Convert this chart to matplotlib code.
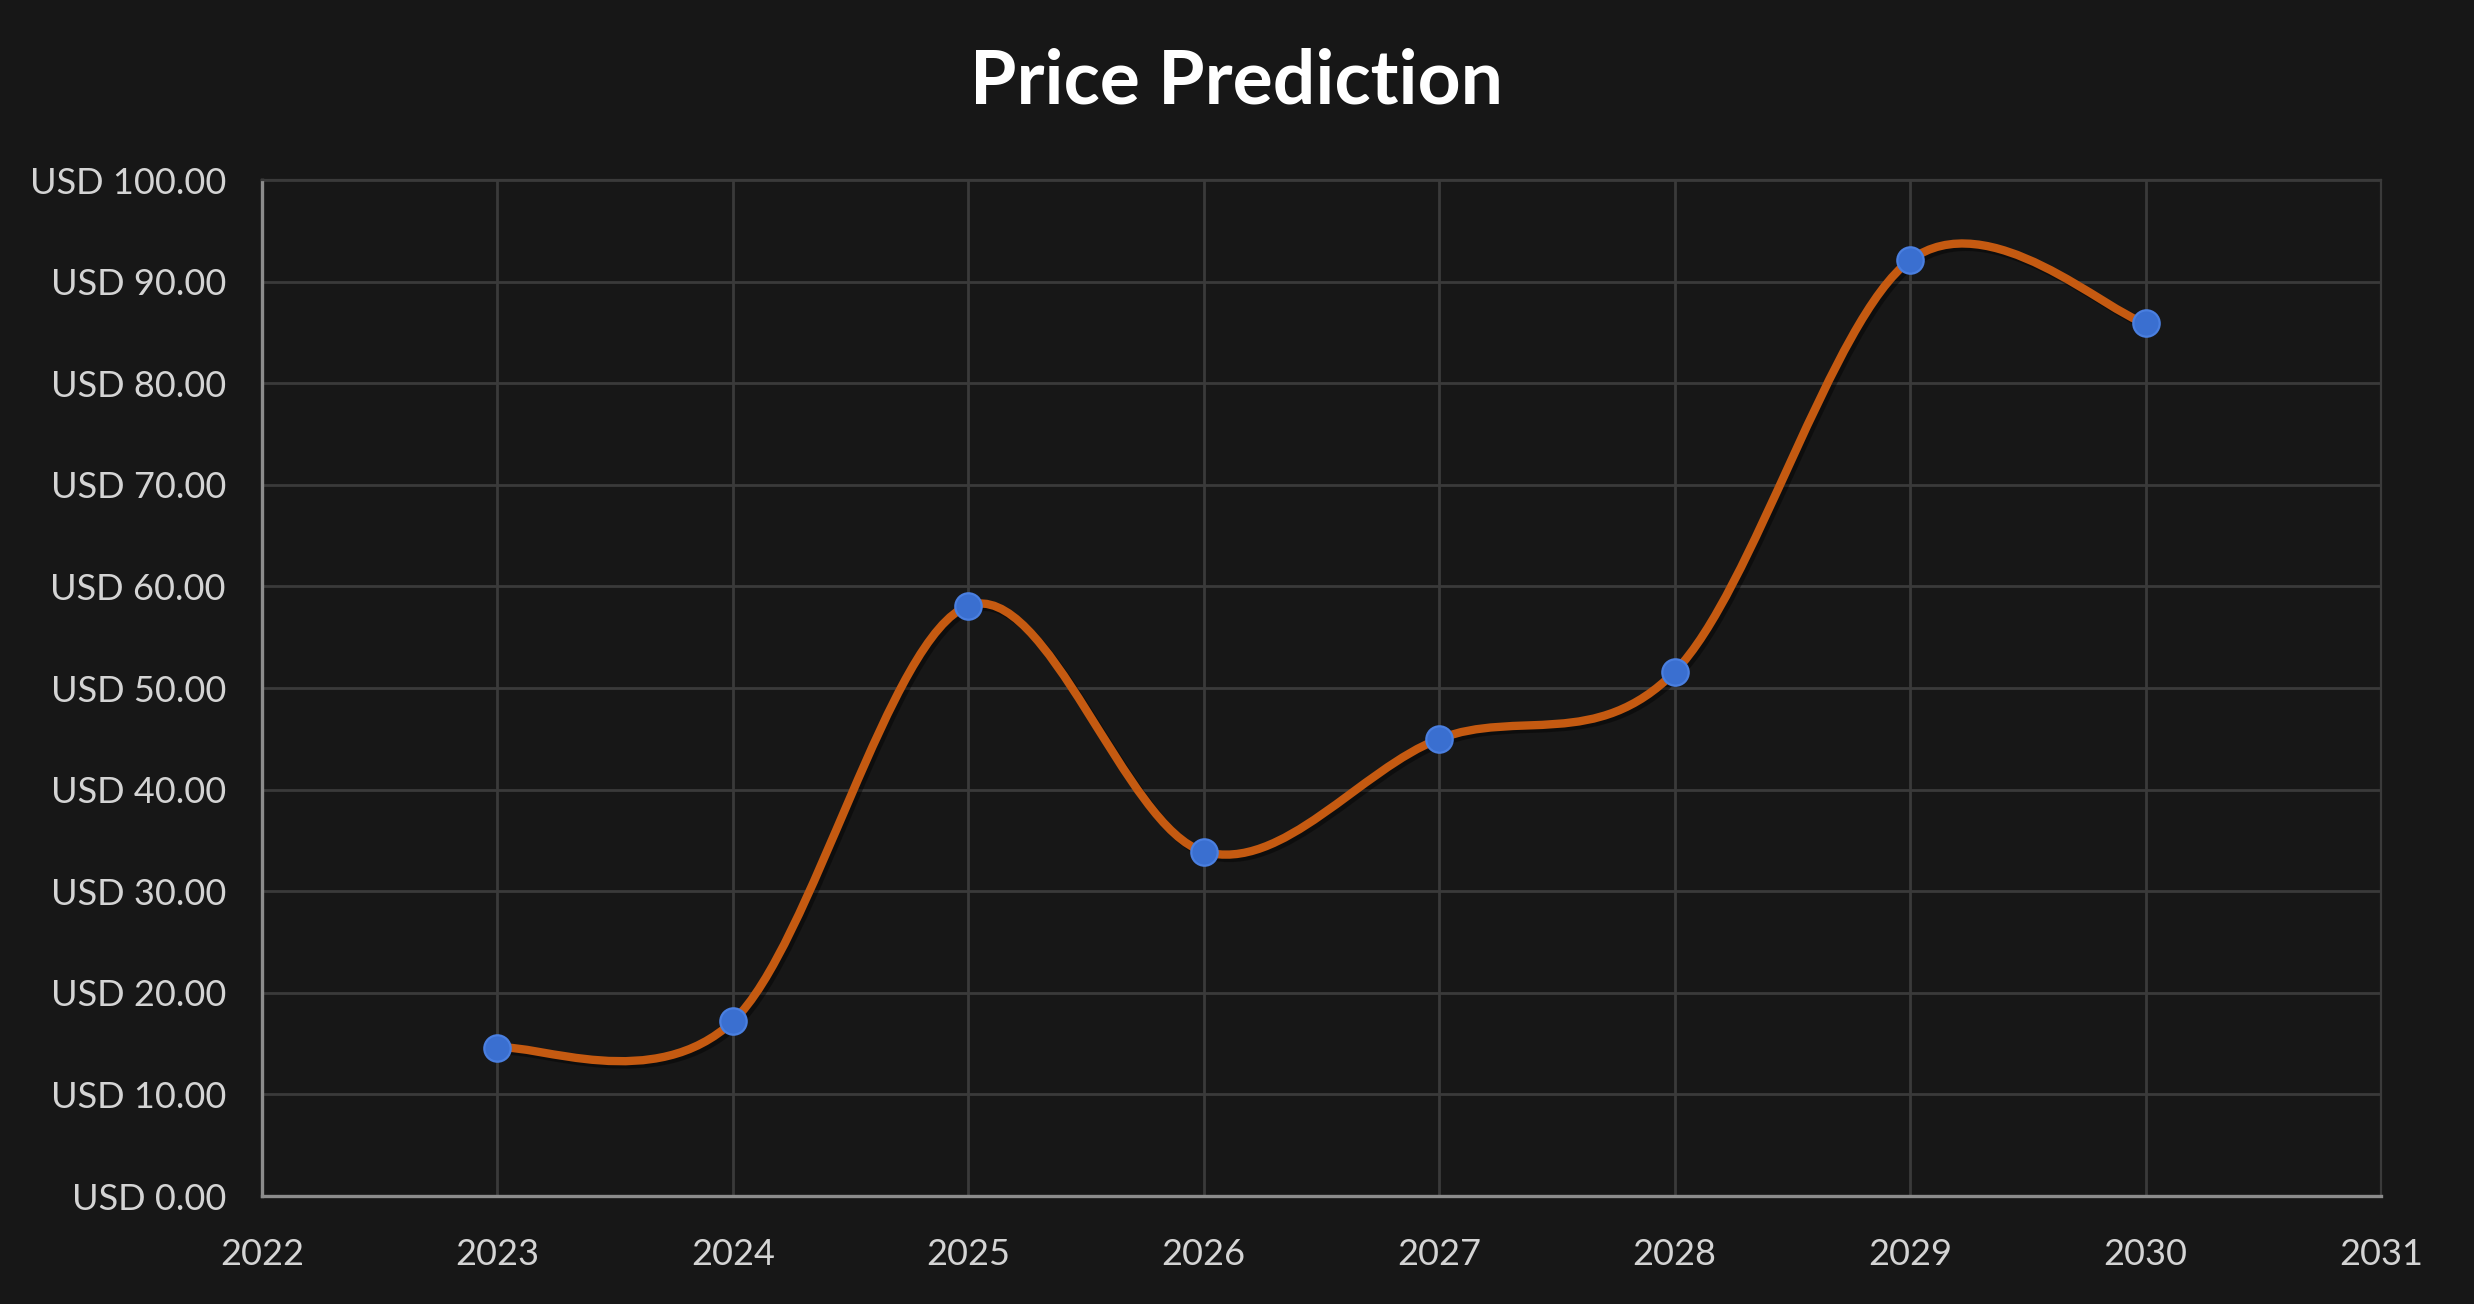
import matplotlib.pyplot as plt
import matplotlib.patheffects as pe
from matplotlib.path import Path
from matplotlib.patches import PathPatch
from matplotlib.ticker import FuncFormatter

years = [2023, 2024, 2025, 2026, 2027, 2028, 2029, 2030]
prices = [14.6, 17.2, 58.1, 33.9, 45.0, 51.6, 92.1, 85.9]

x_ticks = list(range(2022, 2032))
y_ticks = list(range(0, 101, 10))

BG = "#171717"
GRID = "#3a3a3a"
SPINE = "#8c8c8c"
TEXT = "#d4d4d4"
LINE = "#c55a11"
MARKER = "#3a6fd0"


def smooth_path(xs: list[float], ys: list[float], tension: float = 1 / 6) -> Path:
    # excel-like smoothed line: cubic bezier segments between neighbours
    verts = [(xs[0], ys[0])]
    codes = [Path.MOVETO]
    n = len(xs)
    for i in range(n - 1):
        x0, y0 = xs[max(i - 1, 0)], ys[max(i - 1, 0)]
        x1, y1 = xs[i], ys[i]
        x2, y2 = xs[i + 1], ys[i + 1]
        x3, y3 = xs[min(i + 2, n - 1)], ys[min(i + 2, n - 1)]
        c1 = (x1 + (x2 - x0) * tension, y1 + (y2 - y0) * tension)
        c2 = (x2 - (x3 - x1) * tension, y2 - (y3 - y1) * tension)
        verts += [c1, c2, (x2, y2)]
        codes += [Path.CURVE4] * 3
    return Path(verts, codes)


plt.rcParams["font.family"] = ["Lato", "DejaVu Sans"]

fig = plt.figure(figsize=(12.37, 6.52), dpi=200, facecolor=BG)
ax = fig.add_axes([262 / 2474, 1 - 1196 / 1304, (2381 - 262) / 2474, (1196 - 180) / 1304])
ax.set_facecolor(BG)

patch = PathPatch(
    smooth_path(years, prices),
    facecolor="none",
    edgecolor=LINE,
    lw=3.0,
    capstyle="round",
    joinstyle="round",
    zorder=3,
    path_effects=[
        pe.SimpleLineShadow(offset=(1.2, -1.2), shadow_color="black", alpha=0.4),
        pe.Normal(),
    ],
)
ax.add_patch(patch)
ax.plot(
    years,
    prices,
    "o",
    color=MARKER,
    markersize=9.5,
    markeredgecolor="#4a7fe0",
    markeredgewidth=0.8,
    zorder=4,
)

ax.set_xlim(2022, 2031)
ax.set_ylim(0, 100)
ax.set_xticks(x_ticks)
ax.set_yticks(y_ticks)
ax.yaxis.set_major_formatter(FuncFormatter(lambda v, _: f"USD {v:.2f}"))

ax.grid(True, color=GRID, lw=1.0)
ax.set_axisbelow(True)
ax.tick_params(length=0, colors=TEXT, labelsize=13)
ax.tick_params(axis="y", pad=13)
ax.tick_params(axis="x", pad=15)
for side in ["top", "right"]:
    ax.spines[side].set_color(GRID)
for side in ["left", "bottom"]:
    ax.spines[side].set_color(SPINE)
    ax.spines[side].set_linewidth(1.2)

fig.text(0.5, 1 - 82 / 1304, "Price Prediction", ha="center", va="center",
         color="white", fontsize=27, fontweight="bold")

fig.savefig("out.png", dpi=200, facecolor=BG)
